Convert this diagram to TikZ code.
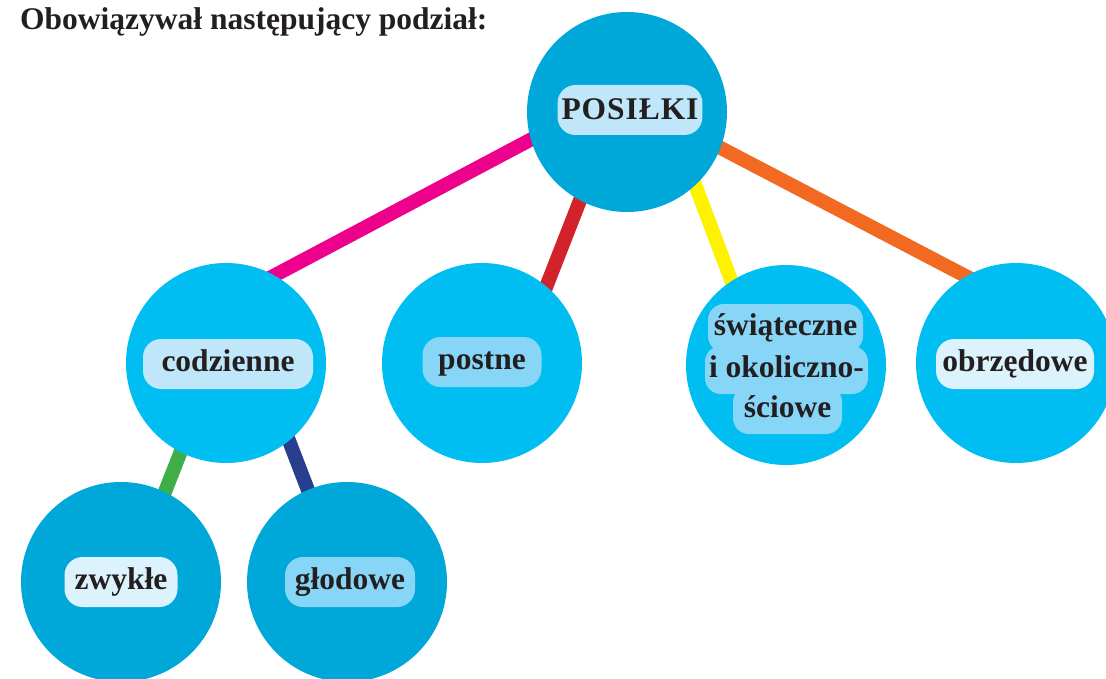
\documentclass[tikz,border=0pt]{standalone}
\usepackage{fontspec}
\setmainfont{Liberation Serif}
\usetikzlibrary{backgrounds}
\definecolor{cdark}{HTML}{00A7D9}
\definecolor{ccyan}{HTML}{00BEF2}
\definecolor{bxA}{HTML}{BFE7F9}
\definecolor{bxB}{HTML}{88D6F7}
\definecolor{bxC}{HTML}{DCF2FC}
\definecolor{ink}{HTML}{231F20}
\definecolor{lpink}{HTML}{EC008C}
\definecolor{lred}{HTML}{D2232A}
\definecolor{lyellow}{HTML}{FFF200}
\definecolor{lorange}{HTML}{F26A22}
\definecolor{lgreen}{HTML}{3FAE49}
\definecolor{lnavy}{HTML}{283F8F}
\begin{document}
\begin{tikzpicture}[x=1pt,y=-1pt,
 bubble/.style={circle, minimum size=200pt, inner sep=0pt, draw=none},
 darkb/.style={bubble, fill=cdark},
 cyanb/.style={bubble, fill=ccyan},
 labfont/.style={font=\fontsize{31.5pt}{37pt}\selectfont\bfseries, text=ink},
 lab/.style={labfont, rounded corners=18pt, minimum height=50pt, inner xsep=4pt, inner ysep=0pt, text height=22pt, text depth=8pt},
 swl/.style={labfont, fill=bxB, rounded corners=16pt, anchor=base, inner xsep=4pt, inner ysep=9pt, text height=22pt, text depth=8pt},
 link/.style={line width=14pt, shorten <=-12pt, shorten >=-12pt},
]
\useasboundingbox (0,0) rectangle (1106,679);

\node[anchor=base west, inner sep=0pt, labfont] (title) at (20,30) {Obowiązywał następujący podział:};

\node[darkb] (pos) at (627,112) {};
\node[cyanb] (cod) at (226,363) {};
\node[cyanb] (pst) at (482,363) {};
\node[cyanb] (swi) at (786,365) {};
\node[cyanb] (obr) at (1016,363) {};
\node[darkb] (zwy) at (121,582) {};
\node[darkb] (glo) at (347,582) {};

\node[lab, fill=bxA, minimum width=143pt, text height=20pt, text depth=0pt] (posL) at (630,110) {\addfontfeature{LetterSpace=3}POSIŁKI};
\node[lab, fill=bxA, minimum width=170pt] (codL) at (228,364) {codzienne};
\node[lab, fill=bxB, minimum width=119pt] (pstL) at (482,362) {postne};
\node[lab, fill=bxC, minimum width=158pt] (obrL) at (1015,364) {obrzędowe};
\node[lab, fill=bxC, minimum width=113pt] (zwyL) at (121,582) {zwykłe};
\node[lab, fill=bxB, minimum width=130pt] (gloL) at (350,582) {głodowe};

\node[swl, minimum width=155pt] (swiA) at (785.5,335) {świąteczne};
\node[swl, minimum width=163pt] (swiB) at (786.5,377) {i okoliczno-};
\node[swl, minimum width=109pt] (swiC) at (787.5,417) {ściowe};

\begin{pgfonlayer}{background}
\fill[white] (0,0) rectangle (1106,679);
\draw[link, lpink] (pos.196) -- (cod.61);
\draw[link, lred] (pos.242) -- (pst.50);
\draw[link, lyellow] (pos.313) -- (swi.123);
\draw[link, lorange] (pos.339) -- (obr.120);
\draw[link, lgreen] (cod.243) -- (zwy.64);
\draw[link, lnavy] (cod.309) -- (glo.113);
\end{pgfonlayer}
\end{tikzpicture}
\end{document}
